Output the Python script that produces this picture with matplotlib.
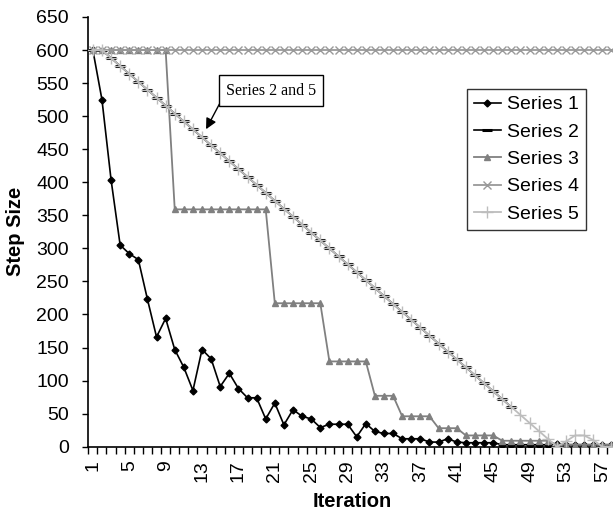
import matplotlib
matplotlib.use("Agg")
import matplotlib.pyplot as plt
import numpy as np

plt.rcParams['font.family'] = ['Liberation Sans', 'DejaVu Sans']

iterations = list(range(1, 59))
series1 = [600, 525, 404, 305, 292, 283, 223, 166, 194, 147,
           120, 85, 147, 133, 91, 111, 88, 74, 74, 42,
           66, 33, 56, 46, 42, 29, 34, 34, 34, 15,
           35, 23, 20, 20, 12, 12, 12, 7, 7, 12,
           7, 6, 6, 6, 6, 3, 3, 3, 3, 3,
           3, 4, 3, 3, 3, 3, 3, 3]
series2 = [600, 600, 588, 576, 564, 552, 540, 528, 516, 504,
           492, 480, 468, 456, 444, 432, 420, 408, 396, 384,
           372, 360, 348, 336, 324, 312, 300, 288, 276, 264,
           252, 240, 228, 216, 204, 192, 180, 168, 156, 144,
           132, 120, 108, 96, 84, 72, 60]
series3 = [600, 600, 600, 600, 600, 600, 600, 600, 600, 359,
           359, 359, 359, 359, 359, 359, 359, 359, 359, 359,
           217, 217, 217, 217, 217, 217, 129, 129, 129, 129,
           129, 77, 77, 77, 46, 46, 46, 46, 28, 28,
           28, 17, 17, 17, 17, 9, 9, 9, 9, 9,
           9, 3, 3, 3, 3, 3, 3, 3]
series4 = [600] * 58
series5 = [600, 600, 588, 576, 564, 552, 540, 528, 516, 504,
           492, 480, 468, 456, 444, 432, 420, 408, 396, 384,
           372, 360, 348, 336, 324, 312, 300, 288, 276, 264,
           252, 240, 228, 216, 204, 192, 180, 168, 156, 144,
           132, 120, 108, 96, 84, 72, 60, 48, 36, 24,
           12, 0, 8, 17, 17, 10, 0, 0]
y_ticks = list(range(0, 651, 50))
x_tick_labels = list(range(1, 58, 4))

W, H = 613, 518
fig = plt.figure(figsize=(W / 100, H / 100), dpi=100)
left_px, right_px, top_px, bottom_px = 88.3, 616.0, 17.0, 446.7
ax = fig.add_axes([left_px / W, 1 - bottom_px / H,
                   (right_px - left_px) / W, (bottom_px - top_px) / H])

def xs(vals):
    return iterations[:len(vals)]

ax.plot(xs(series1), series1, color='black', lw=1.2, marker='D', ms=3.5,
        label='Series 1', zorder=3)
ax.plot(xs(series2), series2, color='black', lw=1.2, marker='_', ms=7, mew=2.2,
        label='Series 2', zorder=4)
ax.plot(xs(series3), series3, color='#808080', lw=1.3, marker='^', ms=5,
        label='Series 3', zorder=5)
ax.plot(xs(series4), series4, color='#999999', lw=1.3, marker='x', ms=5.5, mew=1.0,
        label='Series 4', zorder=6)
ax.plot(xs(series5), series5, color='#BDBDBD', lw=1.3, marker='+', ms=8, mew=1.0,
        label='Series 5', zorder=7)

FS = 14
ax.set_xlim(0.5, 58.5)
ax.set_ylim(0, 650)
ax.set_yticks(y_ticks)
ax.set_yticklabels([str(v) for v in y_ticks], fontsize=FS)
ax.set_xticks(np.arange(0.5, 59, 1), minor=False)
ax.set_xticklabels([])
ax.set_xticks(x_tick_labels, minor=True)
ax.set_xticklabels([str(v) for v in x_tick_labels], minor=True, rotation=90, fontsize=FS)
ax.tick_params(axis='x', which='major', direction='out', length=5, width=1, color='black')
ax.tick_params(axis='x', which='minor', length=0, pad=10)
ax.tick_params(axis='y', direction='out', length=4, width=1, pad=10)

for s in ['top', 'right']:
    ax.spines[s].set_visible(False)
for s in ['left', 'bottom']:
    ax.spines[s].set_linewidth(1.2)
    ax.spines[s].set_color('black')

ax.set_ylabel('Step Size', fontsize=FS + 0.5, fontweight='bold', labelpad=8)
ax.set_xlabel('Iteration', fontsize=FS + 0.5, fontweight='bold', labelpad=7)

leg = ax.legend(loc='upper left', bbox_to_anchor=((467 - left_px) / (right_px - left_px),
                1 - (89 - top_px) / (bottom_px - top_px)),
                frameon=True, fancybox=False, edgecolor='black', fontsize=FS,
                handlelength=1.4, handletextpad=0.3, borderpad=0.35, labelspacing=0.5,
                borderaxespad=0)
leg.get_frame().set_linewidth(1.0)

ax.text(20.6, 538.8, 'Series 2 and 5', family=['Liberation Serif'], fontsize=11.5,
        ha='center', va='center', zorder=10,
        bbox=dict(boxstyle='square,pad=0.45', fc='white', ec='black', lw=1.0))
ax.annotate('', xy=(13.3, 476.5), xytext=(15.05, 522),
            arrowprops=dict(arrowstyle='-|>', color='black', lw=1.0, mutation_scale=16),
            zorder=10)

fig.savefig('out.png', dpi=100)
